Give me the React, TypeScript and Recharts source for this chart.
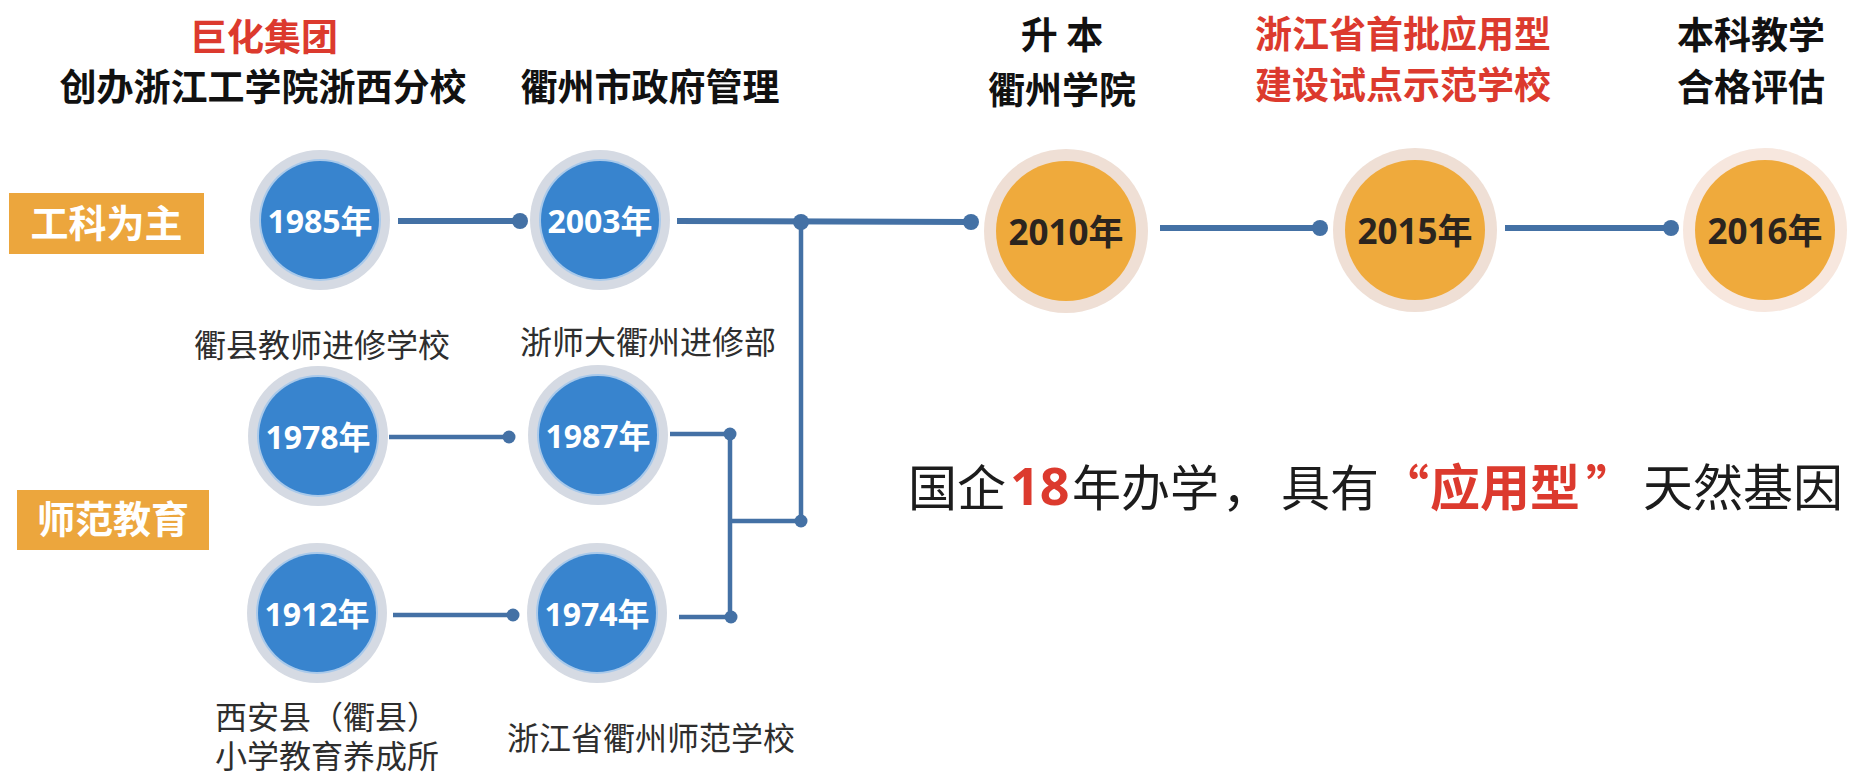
import React from "react"
import { ScatterChart, Scatter, XAxis, YAxis, ReferenceLine, ReferenceArea } from "recharts"

const W = 1855
const H = 778

// nodes of the early (blue) branches
const blueYears = ["1985年", "2003年", "1978年", "1987年", "1912年", "1974年"]
const blueX = [320, 600, 318, 598, 317, 597]
const blueY = [220, 220, 436, 435, 613, 613]

// nodes after 2010 (orange)
const orangeYears = ["2010年", "2015年", "2016年"]
const orangeX = [1066, 1415, 1765]
const orangeY = [231, 230, 230]

// connectors [x1, y1, x2, y2]
const mainLinks = [
  [398, 221, 520, 221],
  [677, 221, 971, 222],
  [1160, 228, 1320, 228],
  [1505, 228, 1671, 228],
]
const branchLinks = [
  [389, 437, 509, 437],
  [393, 615, 513, 615],
  [670, 434, 730, 434],
  [679, 617, 731, 617],
  [730, 434, 730, 617],
  [730, 521, 801, 521],
  [801, 222, 801, 521],
]
const bigJoints = [[520, 221], [801, 222], [971, 222], [1320, 228], [1671, 228]]
const smallJoints = [[509, 437], [513, 615], [730, 434], [731, 617], [801, 521]]

// headings
const headBlack = ["创办浙江工学院浙西分校", "衢州市政府管理", "升 本", "衢州学院", "本科教学", "合格评估"]
const headBlackX = [263, 650, 1062, 1062, 1751, 1751]
const headBlackY = [85, 85, 33, 88, 33, 85]
const headRed = ["巨化集团", "浙江省首批应用型", "建设试点示范学校"]
const headRedX = [264, 1403, 1403]
const headRedY = [35, 32, 83]

// captions under the nodes
const captions = ["衢县教师进修学校", "浙师大衢州进修部", "西安县（衢县）\n小学教育养成所", "浙江省衢州师范学校"]
const captionX = [322, 648, 327, 651]
const captionY = [343, 340, 715, 736]

// side tags
const tags = ["工科为主", "师范教育"]
const tagBox = [[9, 204, 193, 254], [17, 209, 490, 550]]

// slogan pieces
const sloganParts = ["国企", "18", "年办学", "，", "具有", "“", "应用型", "”", "天然基因"]
const sloganRed = [false, true, false, false, false, true, true, true, false]
const sloganX = [908, 1010, 1072, 1222, 1281, 1380, 1430, 1586, 1643]

const CJK = "'Noto Sans CJK SC', 'Noto Sans', sans-serif"
const NUM = "'Open Sans', 'Noto Sans CJK SC', sans-serif"
const LINE = "#4471a5"
const RED = "#dc3a2e"

const toPts = (xs: number[], ys: number[], labels: string[]) =>
  labels.map((t, i) => ({ x: xs[i], y: ys[i], t }))

const BlueNode = (p: any) => (
  <g>
    <circle cx={p.cx} cy={p.cy} r={70} fill="#d5dae3" />
    <circle cx={p.cx} cy={p.cy} r={61} fill="#a9c9ea" />
    <circle cx={p.cx} cy={p.cy} r={59} fill="#3884ce" />
    <text x={p.cx} y={p.cy} textAnchor="middle" dominantBaseline="central" fill="#fff"
      fontFamily={NUM} fontWeight={700} fontSize={32}>{p.payload.t}</text>
  </g>
)

const OrangeNode = (p: any) => (
  <g>
    <circle cx={p.cx} cy={p.cy} r={82} fill={p.payload.t === "2016年" ? "#f7e7de" : "#efdfd5"} />
    <circle cx={p.cx} cy={p.cy} r={70} fill="#efaa3c" />
    <text x={p.cx} y={p.cy} textAnchor="middle" dominantBaseline="central" fill="#2b241e"
      fontFamily={NUM} fontWeight={700} fontSize={35}>{p.payload.t}</text>
  </g>
)

const textShape = (size: number, weight: number, color: string, gap = 0) => (p: any) => {
  const lines = String(p.payload.t).split("\n")
  return (
    <text x={p.cx} y={p.cy} textAnchor="middle" dominantBaseline="central" fill={color}
      fontFamily={CJK} fontWeight={weight} fontSize={size}>
      {lines.map((l, i) => (
        <tspan key={i} x={p.cx} dy={i === 0 ? 0 : gap}>{l}</tspan>
      ))}
    </text>
  )
}

const Slogan = (p: any) => (
  <g>
    {sloganParts.map((s, i) => {
      const isNum = s === "18"
      const size = isNum ? 52 : s === "应用型" ? 50 : s === "天然基因" ? 50 : 49
      return (
        <text key={i} x={sloganX[i]} y={p.cy} dominantBaseline="central"
          fill={sloganRed[i] ? RED : "#1c1c1c"}
          fontFamily={isNum ? NUM : CJK}
          fontWeight={sloganRed[i] ? 700 : 400}
          fontSize={size}>{s}</text>
      )
    })}
  </g>
)

export default function App() {
  return (
    <div style={{ width: W, height: H, background: "#fff", fontFamily: CJK }}>
      <style>{`body{margin:0}`}</style>
      <ScatterChart width={W} height={H} margin={{ top: 0, right: 0, bottom: 0, left: 0 }}>
        <XAxis type="number" dataKey="x" domain={[0, W]} hide />
        <YAxis type="number" dataKey="y" domain={[0, H]} reversed hide />

        {tags.map((t, i) => (
          <ReferenceArea key={t} x1={tagBox[i][0]} x2={tagBox[i][1]} y1={tagBox[i][2]} y2={tagBox[i][3]}
            fill="#eca63d" fillOpacity={1} stroke="none"
            label={{ value: t, position: "center", fill: "#fff", fontSize: 38, fontWeight: 700, fontFamily: CJK }} />
        ))}

        {mainLinks.map((s, i) => (
          <ReferenceLine key={"m" + i} segment={[{ x: s[0], y: s[1] }, { x: s[2], y: s[3] }]}
            stroke={LINE} strokeWidth={6} />
        ))}
        {branchLinks.map((s, i) => (
          <ReferenceLine key={"b" + i} segment={[{ x: s[0], y: s[1] }, { x: s[2], y: s[3] }]}
            stroke={LINE} strokeWidth={4.5} />
        ))}

        <Scatter data={bigJoints.map(([x, y]) => ({ x, y }))} isAnimationActive={false}
          shape={(p: any) => <circle cx={p.cx} cy={p.cy} r={8} fill={LINE} />} />
        <Scatter data={smallJoints.map(([x, y]) => ({ x, y }))} isAnimationActive={false}
          shape={(p: any) => <circle cx={p.cx} cy={p.cy} r={6.5} fill={LINE} />} />

        <Scatter data={toPts(blueX, blueY, blueYears)} isAnimationActive={false} shape={BlueNode} />
        <Scatter data={toPts(orangeX, orangeY, orangeYears)} isAnimationActive={false} shape={OrangeNode} />

        <Scatter data={toPts(headBlackX, headBlackY, headBlack)} isAnimationActive={false}
          shape={textShape(37, 700, "#111")} />
        <Scatter data={toPts(headRedX, headRedY, headRed)} isAnimationActive={false}
          shape={textShape(37, 700, RED)} />
        <Scatter data={toPts(captionX, captionY, captions)} isAnimationActive={false}
          shape={textShape(32, 400, "#2e2e2e", 39)} />
        <Scatter data={[{ x: 1380, y: 484 }]} isAnimationActive={false} shape={Slogan} />
      </ScatterChart>
    </div>
  )
}
